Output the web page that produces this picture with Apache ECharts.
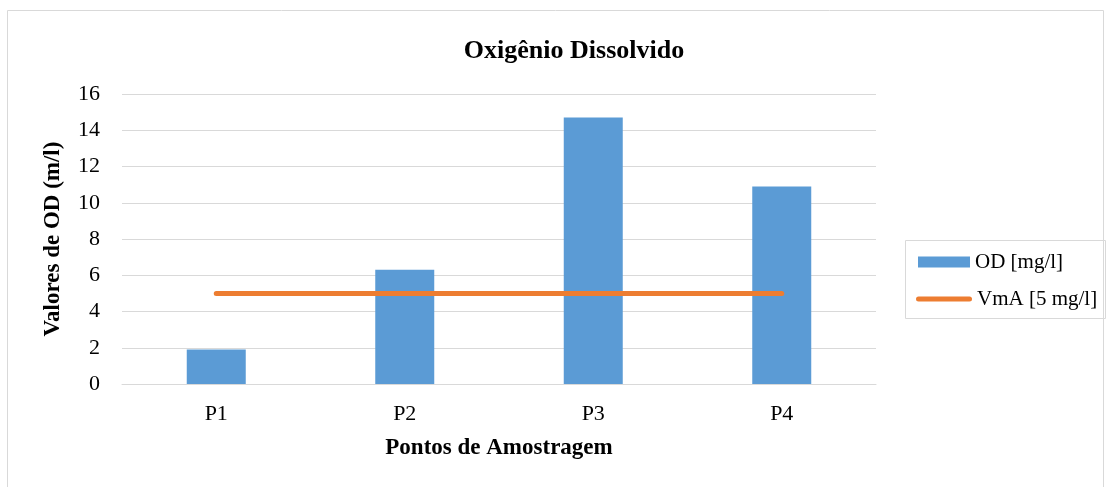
<!DOCTYPE html>
<html><head><meta charset="utf-8">
<script src="https://cdn.jsdelivr.net/npm/echarts@6/dist/echarts.min.js"></script>
<style>html,body{margin:0;padding:0;background:#fff}#c{width:1111px;height:487px}</style>
</head><body><div id="c"></div>
<script>
const categories = ['P1','P2','P3','P4'];
const odValues = [1.9, 6.3, 14.7, 10.9];
const vmaValues = [5, 5, 5, 5];
const yTicks = [0,2,4,6,8,10,12,14,16];
const font = 'Liberation Serif, Times New Roman, serif';
const chart = echarts.init(document.getElementById('c'));
chart.setOption({
  animation: false,
  textStyle: {fontFamily: font},
  graphic: [
    {type:'rect', shape:{x:7.5,y:10.5,width:1096,height:490}, style:{fill:'none', stroke:'#d9d9d9', lineWidth:1}},
    {type:'rect', shape:{x:905.5,y:240.5,width:200,height:78}, style:{fill:'none', stroke:'#d9d9d9', lineWidth:1}}
  ],
  title: {text:'Oxigênio Dissolvido', left: 569, top: 33, textAlign:'center',
    textStyle:{fontFamily:font, fontSize:26, fontWeight:'bold', color:'#000'}},
  legend: [
    {left: 918, top: 250, padding:0, itemWidth:52, itemHeight:11, itemGap:0,
     textStyle:{fontFamily:font, fontSize:21, color:'#000', lineHeight:24},
     data:[{name:'OD [mg/l]', icon:'rect'}]},
    {left: 916, top: 287, padding:0, itemWidth:56, itemHeight:5, itemGap:0,
     textStyle:{fontFamily:font, fontSize:21, color:'#000', lineHeight:24},
     data:[{name:'VmA [5 mg/l]', icon:'path://M2.5,0 H53.5 A2.5,2.5 0 0 1 53.5,5 H2.5 A2.5,2.5 0 0 1 2.5,0 Z'}]}
  ],
  grid: {left:122, right:1111-876, top:94, bottom:487-384},
  xAxis: {type:'category', data:categories, axisTick:{show:false},
    axisLine:{lineStyle:{color:'#d9d9d9', width:1}},
    axisLabel:{fontFamily:font, fontSize:22, color:'#000', margin:19},
    name:'Pontos de Amostragem', nameLocation:'middle', nameGap:53,
    nameTextStyle:{fontFamily:font, fontSize:23, fontWeight:'bold', color:'#000'}},
  yAxis: {type:'value', min:yTicks[0], max:yTicks[yTicks.length-1], interval:2,
    axisLine:{show:false}, axisTick:{show:false},
    splitLine:{lineStyle:{color:'#d9d9d9', width:1}},
    axisLabel:{fontFamily:font, fontSize:22, color:'#000', margin:22},
    name:'Valores de OD (m/l)', nameLocation:'middle', nameGap:57, nameRotate:90,
    nameTextStyle:{fontFamily:font, fontSize:23, fontWeight:'bold', color:'#000'}},
  series: [
    {name:'OD [mg/l]', type:'bar', data:odValues, barWidth:59, itemStyle:{color:'#5b9bd5'}},
    {name:'VmA [5 mg/l]', type:'line', data:vmaValues, symbol:'none',
     lineStyle:{color:'#ed7d31', width:5, cap:'round'}, itemStyle:{color:'#ed7d31'}}
  ]
});
</script></body></html>
